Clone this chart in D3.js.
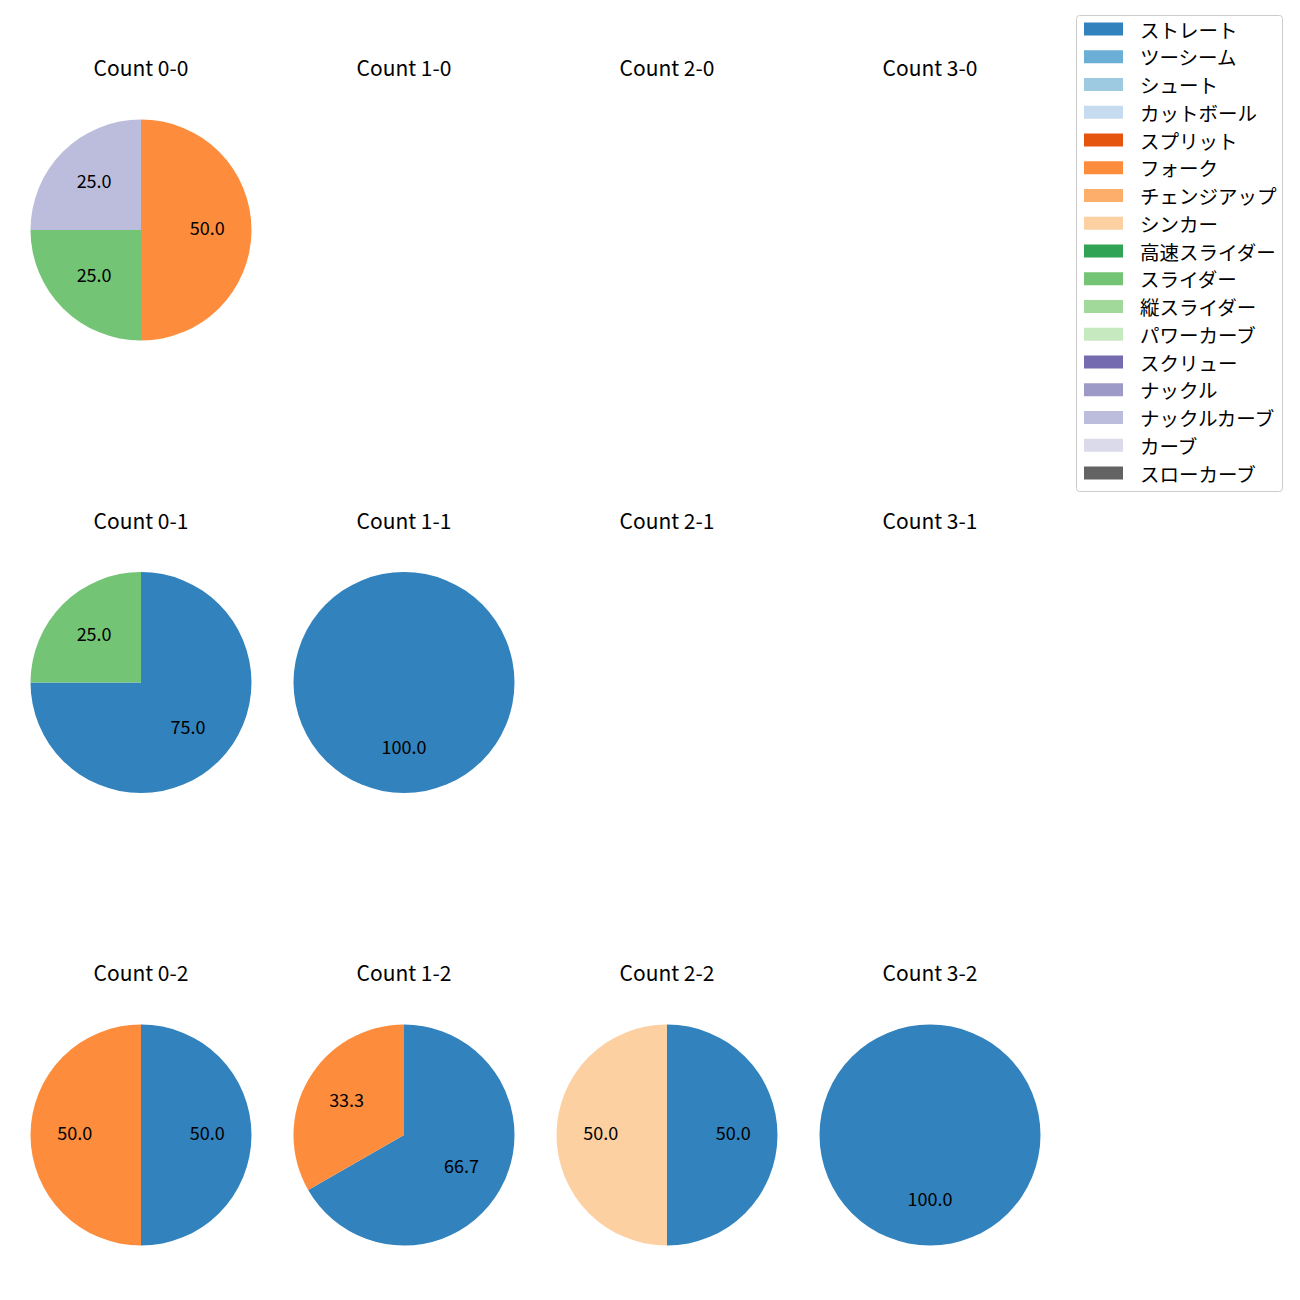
<!DOCTYPE html>
<html><head><meta charset="utf-8">
<script src="https://cdn.jsdelivr.net/npm/d3@7"></script>
<style>body{margin:0;background:#fff}</style>
</head><body>
<script>
const pitchTypes = ["ストレート","ツーシーム","シュート","カットボール","スプリット","フォーク","チェンジアップ","シンカー","高速スライダー","スライダー","縦スライダー","パワーカーブ","スクリュー","ナックル","ナックルカーブ","カーブ","スローカーブ"];
const pitchColors = ["#3182bd","#6baed6","#9ecae1","#c6dbef","#e6550d","#fd8d3c","#fdae6b","#fdd0a2","#31a354","#74c476","#a1d99b","#c7e9c0","#756bb1","#9e9ac8","#bcbddc","#dadaeb","#636363"];
const balls = [0,1,2,3];
const strikes = [0,1,2];
// each panel: [pitch type, percent]
const count00 = [["フォーク",50.0],["スライダー",25.0],["ナックルカーブ",25.0]];
const count10 = [];
const count20 = [];
const count30 = [];
const count01 = [["ストレート",75.0],["スライダー",25.0]];
const count11 = [["ストレート",100.0]];
const count21 = [];
const count31 = [];
const count02 = [["ストレート",50.0],["フォーク",50.0]];
const count12 = [["ストレート",66.7],["フォーク",33.3]];
const count22 = [["ストレート",50.0],["シンカー",50.0]];
const count32 = [["ストレート",100.0]];
const panels = {"0-0":count00,"1-0":count10,"2-0":count20,"3-0":count30,
  "0-1":count01,"1-1":count11,"2-1":count21,"3-1":count31,
  "0-2":count02,"1-2":count12,"2-2":count22,"3-2":count32};

const W=1300,H=1300;
const svg=d3.select("body").append("svg").attr("width",W).attr("height",H)
  .style("font-family","'Noto Sans CJK JP','Noto Sans',sans-serif");
const color=d3.scaleOrdinal().domain(pitchTypes).range(pitchColors);
const xPos=d3.scalePoint().domain(balls).range([141,930]);
const yPos=d3.scalePoint().domain(strikes).range([230,1135]);
const R=110.5;
const pie=d3.pie().sort(null).value(d=>d[1]);
const arc=d3.arc().innerRadius(0).outerRadius(R);
const labelArc=d3.arc().innerRadius(R*0.6).outerRadius(R*0.6);

strikes.forEach(s=>balls.forEach(b=>{
  const key=`${b}-${s}`;
  const data=panels[key];
  const g=svg.append("g").attr("transform",`translate(${xPos(b)},${yPos(s)})`);
  g.append("text").attr("x",0).attr("y",-154).attr("text-anchor","middle")
    .attr("font-size",21).attr("fill","#000").text("Count "+key);
  if(!data.length) return;
  const arcs=pie(data);
  g.selectAll("path").data(arcs).join("path").attr("d",arc).attr("fill",d=>color(d.data[0]));
  g.selectAll("text.lbl").data(arcs).join("text").attr("class","lbl")
    .attr("transform",d=>{const c=labelArc.centroid(d);return `translate(${c[0]},${c[1]-3})`;})
    .attr("text-anchor","middle").attr("dominant-baseline","central")
    .attr("font-size",18).attr("fill","#000").text(d=>d.data[1].toFixed(1));
}));

// legend
const lg=svg.append("g");
lg.append("rect").attr("x",1076.5).attr("y",15.5).attr("width",206).attr("height",476)
  .attr("rx",3).attr("fill","#fff").attr("stroke","#ccc");
const ly=d3.scaleLinear().domain([0,pitchTypes.length-1]).range([29,473]);
pitchTypes.forEach((p,i)=>{
  lg.append("rect").attr("x",1084).attr("y",ly(i)-6.5).attr("width",39).attr("height",13).attr("fill",color(p));
  lg.append("text").attr("x",1140).attr("y",ly(i)).attr("dominant-baseline","central")
    .attr("font-size",19.5).attr("fill","#000").text(p);
});
</script>
</body></html>
